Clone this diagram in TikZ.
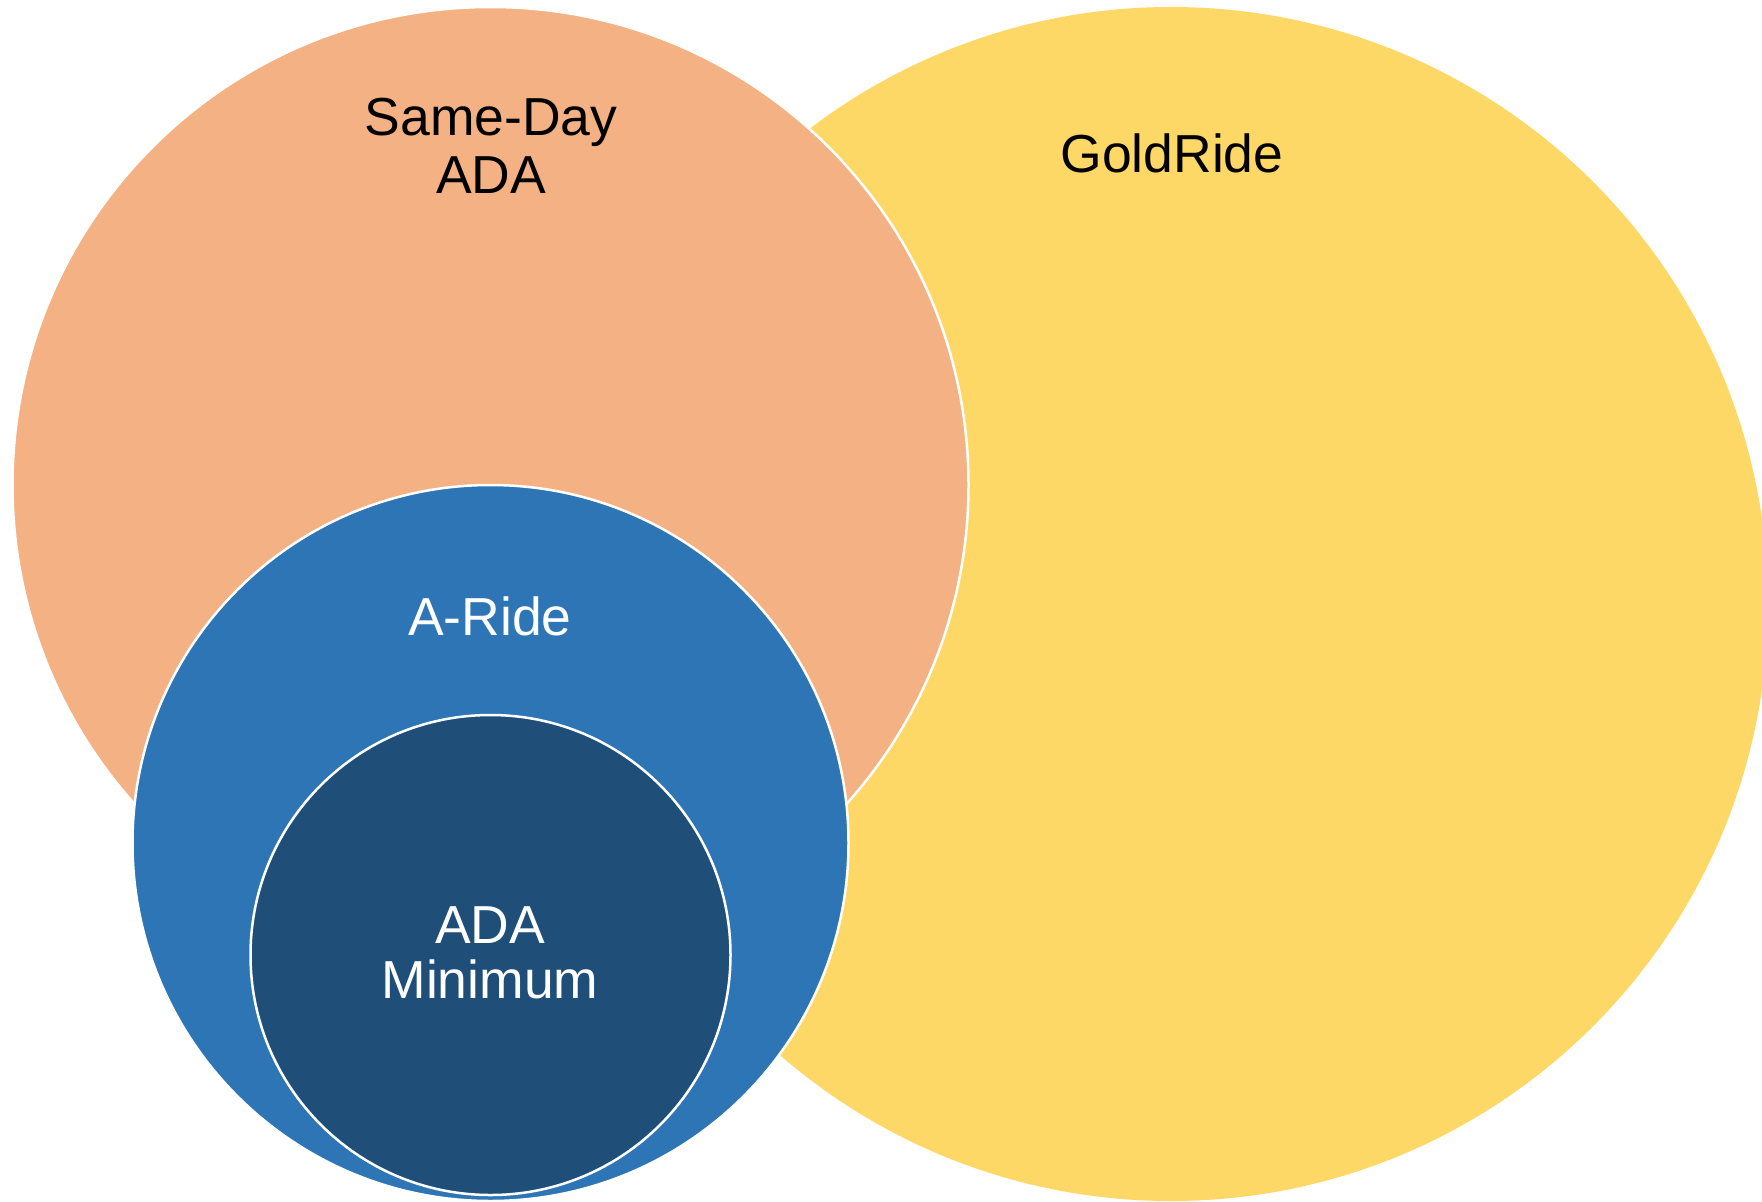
\documentclass[tikz,border=0pt]{standalone}
\usepackage{fontspec}
\setmainfont{Liberation Sans}
\definecolor{cOrange}{HTML}{F4B183}
\definecolor{cYellow}{HTML}{FED866}
\definecolor{cBlue}{HTML}{2E75B6}
\definecolor{cNavy}{HTML}{1F4E79}
\tikzset{
  disc/.style={draw=white, line width=2.5pt},
  lbl/.style={anchor=base, inner sep=0pt, font=\fontsize{53.5}{60}\selectfont},
}
\begin{document}
\begin{tikzpicture}[x=1pt,y=-1pt]
\useasboundingbox (0,0) rectangle (1762,1202);
\clip (0,0) rectangle (1762,1202);
\fill[cYellow] (1171,604) circle[radius=597];
\filldraw[disc, fill=cOrange] (490.5,485) circle[radius=478];
\filldraw[disc, fill=cBlue] (490.5,843) circle[radius=358];
\filldraw[disc, fill=cNavy] (490.5,955) circle[radius=240];
\node[lbl] (sd1) at (491,135) {Same-Day};
\node[lbl] (sd2) at (491,193) {ADA};
\node[lbl] (gold) at (1172,172) {GoldRide};
\node[lbl, text=white] (aride) at (490,635) {A-Ride};
\node[lbl, text=white] (min1) at (490,943) {ADA};
\node[lbl, text=white] (min2) at (490,998) {Minimum};
\end{tikzpicture}
\end{document}
